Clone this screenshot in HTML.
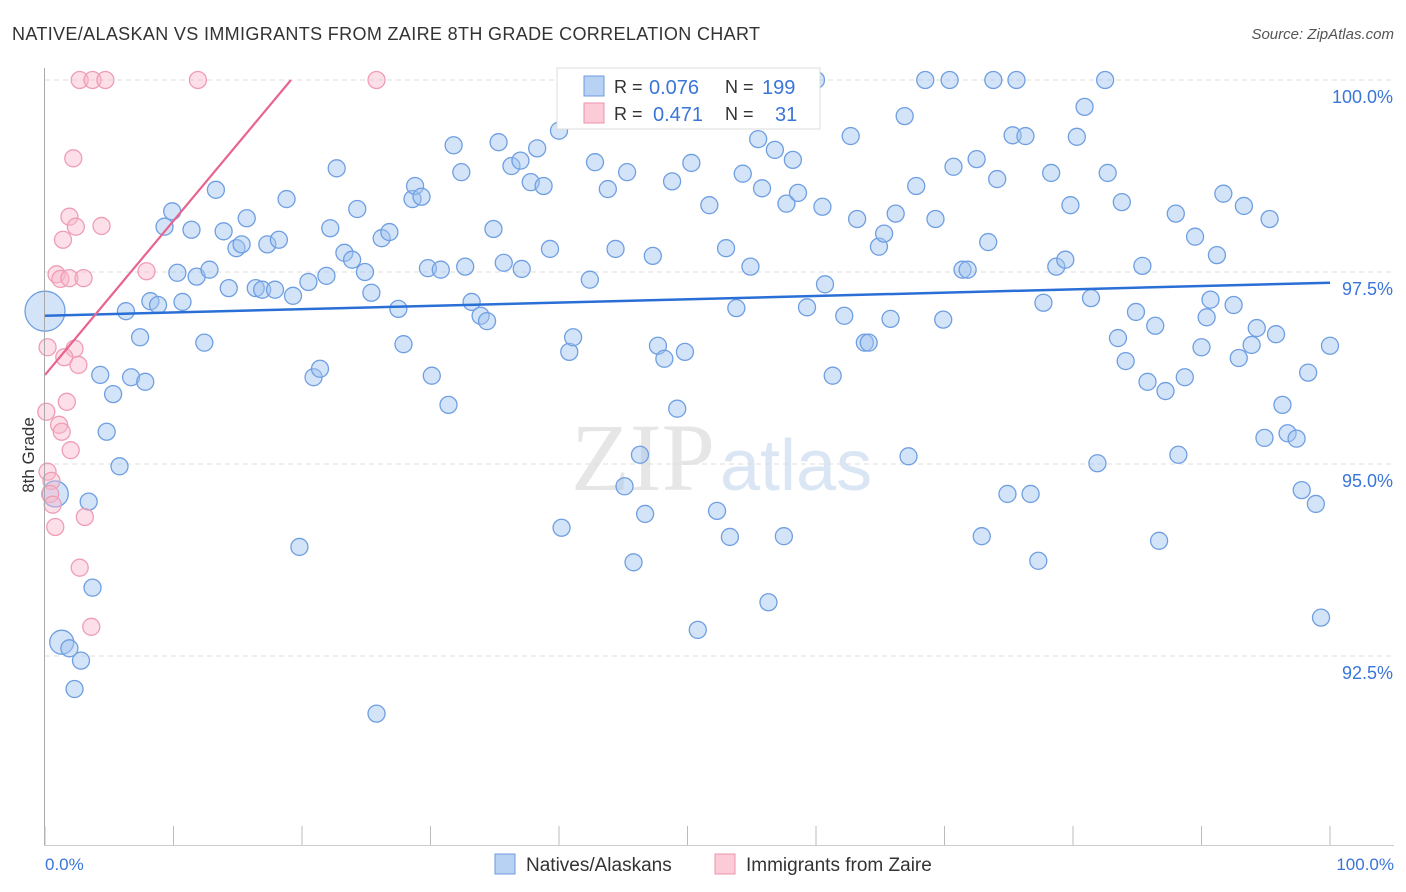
<!DOCTYPE html>
<html><head><meta charset="utf-8"><style>
body{margin:0;background:#fff;font-family:"Liberation Sans",sans-serif;}
#wrap{position:relative;width:1406px;height:892px;overflow:hidden}
</style></head><body>
<div id="wrap">
<svg id="svg" width="1406" height="892" xmlns="http://www.w3.org/2000/svg">
<text x="12" y="40" font-size="18" fill="#333" textLength="748">NATIVE/ALASKAN VS IMMIGRANTS FROM ZAIRE 8TH GRADE CORRELATION CHART</text>
<text x="1394" y="39" font-size="15" fill="#555" font-style="italic" text-anchor="end">Source: ZipAtlas.com</text>
<text x="715" y="490" font-size="96" fill="#e6e6e6" text-anchor="end" font-family="Liberation Serif,serif">ZIP</text>
<text x="720" y="490" font-size="72" fill="#dbe6f5">atlas</text>
<text transform="translate(34,455) rotate(-90)" font-size="17" fill="#333" text-anchor="middle">8th Grade</text>
<g id="grid"></g><g id="pts"></g><g id="lines"></g>
<line x1="44.5" y1="68" x2="44.5" y2="846" stroke="#aaa"/>
<line x1="44" y1="845.5" x2="1394" y2="845.5" stroke="#ccc"/>
<g id="ticks"></g>
<text x="45" y="870" font-size="17" fill="#3a75d8">0.0%</text>
<text x="1394" y="870" font-size="17" fill="#3a75d8" text-anchor="end">100.0%</text>
<g>
<rect x="557" y="68" width="263" height="61" fill="#fff" stroke="#ddd"/>
<rect x="584" y="76" width="20" height="20" fill="#b8d2f4" stroke="#6d9be0"/>
<rect x="584" y="103" width="20" height="20" fill="#fbcbd8" stroke="#ec93ac"/>
<text x="614" y="93" font-size="18" fill="#333">R =</text>
<text x="649" y="94" font-size="20" fill="#3a75d8">0.076</text>
<text x="725" y="93" font-size="18" fill="#333">N =</text>
<text x="762" y="94" font-size="20" fill="#3a75d8">199</text>
<text x="614" y="120" font-size="18" fill="#333">R =</text>
<text x="653" y="121" font-size="20" fill="#3a75d8">0.471</text>
<text x="725" y="120" font-size="18" fill="#333">N =</text>
<text x="775" y="121" font-size="20" fill="#3a75d8">31</text>
</g>
<g>
<rect x="495" y="854" width="20" height="20" fill="#b8d2f4" stroke="#6d9be0"/>
<text x="526" y="871" font-size="19" fill="#333">Natives/Alaskans</text>
<rect x="715" y="854" width="20" height="20" fill="#fbcbd8" stroke="#ec93ac"/>
<text x="746" y="871" font-size="19" fill="#333">Immigrants from Zaire</text>
</g>
</svg>
</div>
<script>
const blueX=[0,0.8,1.3,1.9,2.3,2.8,3.4,3.7,4.3,4.8,5.3,5.8,6.3,6.7,7.4,7.8,8.2,8.8,9.3,9.9,10.3,10.7,11.4,11.8,12.4,12.8,13.3,13.9,14.3,14.9,15.3,15.7,16.4,16.9,17.3,17.9,18.2,18.8,19.3,19.8,20.5,20.9,21.4,21.9,22.2,22.7,23.3,23.9,24.3,24.9,25.4,25.8,26.2,26.8,27.5,27.9,28.6,28.8,29.3,29.8,30.1,30.8,31.4,31.8,32.4,32.7,33.2,33.9,34.4,34.9,35.3,35.7,36.3,37.0,37.1,37.8,38.3,38.8,39.3,40.0,40.2,40.8,41.1,42.0,42.4,42.8,43.2,43.8,44.4,45.1,45.3,45.8,46.3,46.7,47.3,47.7,48.2,48.8,49.2,49.8,50.3,50.8,51.7,52.3,53.0,53.3,53.8,54.3,54.9,55.5,55.8,56.3,56.8,57.5,57.7,58.2,58.6,59.3,60.0,60.5,60.7,61.3,62.2,62.7,63.2,63.8,64.1,64.9,65.3,65.8,66.2,66.9,67.2,67.8,68.5,69.3,69.9,70.4,70.7,71.4,71.8,72.5,72.9,73.4,73.8,74.1,74.9,75.3,75.6,76.3,76.7,77.3,77.7,78.3,78.7,79.4,79.8,80.3,80.9,81.4,81.9,82.5,82.7,83.5,83.8,84.1,84.9,85.4,85.8,86.4,86.7,87.2,88.0,88.2,88.7,89.5,90.0,90.4,90.7,91.2,91.7,92.5,92.9,93.3,93.9,94.3,94.9,95.3,95.8,96.3,96.7,97.4,97.8,98.3,98.9,99.3,100];
const blueY=[96.99,94.61,92.68,92.60,92.07,92.44,94.51,93.39,96.16,95.42,95.91,94.97,96.99,96.13,96.65,96.07,97.12,97.07,98.09,98.29,97.49,97.11,98.05,97.44,96.58,97.53,98.57,98.03,97.29,97.81,97.86,98.20,97.29,97.27,97.86,97.27,97.92,98.45,97.19,93.92,97.37,96.13,96.24,97.45,98.07,98.85,97.75,97.66,98.32,97.50,97.23,91.75,97.94,98.02,97.02,96.56,98.45,98.62,98.48,97.55,96.15,97.53,95.77,99.15,98.80,97.57,97.11,96.93,96.86,98.06,99.19,97.62,98.88,98.95,97.54,98.67,99.11,98.62,97.80,99.34,94.17,96.46,96.65,100,97.40,98.93,100,98.58,97.80,94.71,98.80,93.72,95.12,94.35,97.71,96.54,96.37,98.68,95.72,96.46,98.92,92.84,98.37,94.39,97.81,94.05,97.03,98.78,97.57,99.23,98.59,93.20,99.09,94.06,98.39,98.96,98.53,97.04,100,98.35,97.34,96.15,96.93,99.27,98.19,96.58,96.58,97.83,98.00,96.89,98.26,99.53,95.10,98.62,100,98.19,96.88,100,98.87,97.53,97.53,98.97,94.06,97.89,100,98.71,94.61,99.28,100,99.27,94.61,93.74,97.10,98.79,97.57,97.66,98.37,99.26,99.65,97.16,95.01,100,98.79,96.64,98.41,96.34,96.98,97.58,96.07,96.80,94.00,95.95,98.26,95.12,96.13,97.96,96.52,96.91,97.14,97.72,98.52,97.07,96.38,98.36,96.55,96.77,95.34,98.19,96.69,95.77,95.40,95.33,94.66,96.19,94.48,93.00,96.54];
const blueR=[20,13,12];
const pinkX=[2.7,3.7,4.7,11.9,25.8,2.2,1.9,2.4,1.4,4.4,0.9,1.2,1.9,3.0,7.9,0.2,2.3,1.5,2.6,1.7,0.1,1.1,1.3,2.0,0.2,0.5,0.4,0.6,0.8,3.1,2.7,3.6];
const pinkY=[100,100,100,100,100,98.98,98.22,98.09,97.92,98.10,97.47,97.41,97.42,97.42,97.51,96.52,96.50,96.39,96.29,95.81,95.68,95.51,95.42,95.18,94.90,94.78,94.61,94.47,94.18,94.31,93.65,92.88];
const blueTrend=[96.93,97.36];
const pinkTrend=[96.16,100,19.14];
const yTicks=[100,97.5,95,92.5];
const yTickLabels=["100.0%","97.5%","95.0%","92.5%"];
const NS="http://www.w3.org/2000/svg";
const sx=v=>45+v*12.85, sy=v=>80+(100-v)*76.8;
function mk(t,a,p){const e=document.createElementNS(NS,t);for(const k in a)e.setAttribute(k,a[k]);document.getElementById(p).appendChild(e);return e;}
yTicks.forEach((t,i)=>{
 const g=mk('line',{x1:45,x2:1394,y1:sy(t),y2:sy(t),stroke:'#ddd','stroke-dasharray':'5,4'},'grid');
 
 
 const l=mk('text',{x:1393,y:sy(t)+23,'font-size':18,fill:'#3a75d8','text-anchor':'end'},'grid');
 l.textContent=yTickLabels[i];
 
 
});
for(let i=0;i<=10;i++){const t=mk('line',{x1:sx(i*10),x2:sx(i*10),y1:826,y2:845,stroke:'#bbb'},'ticks');
 
 }
blueX.forEach((x,i)=>{const c=mk('circle',{cx:sx(x),cy:sy(blueY[i]),r:blueR[i]||8.5,fill:'rgba(160,195,240,0.45)',stroke:'#6f9fe2','stroke-width':1.3},'pts');
 
 });
pinkX.forEach((x,i)=>{const c=mk('circle',{cx:sx(x),cy:sy(pinkY[i]),r:8.5,fill:'rgba(248,185,205,0.45)',stroke:'#ef9db5','stroke-width':1.3},'pts');
 
 });
const bl=mk('line',{x1:sx(0),y1:sy(blueTrend[0]),x2:sx(100),y2:sy(blueTrend[1]),stroke:'#2a6fd6','stroke-width':2.5},'lines');


const pl=mk('line',{x1:sx(0),y1:sy(pinkTrend[0]),x2:sx(pinkTrend[2]),y2:sy(pinkTrend[1]),stroke:'#e8648f','stroke-width':2.2},'lines');


</script>
</body></html>
